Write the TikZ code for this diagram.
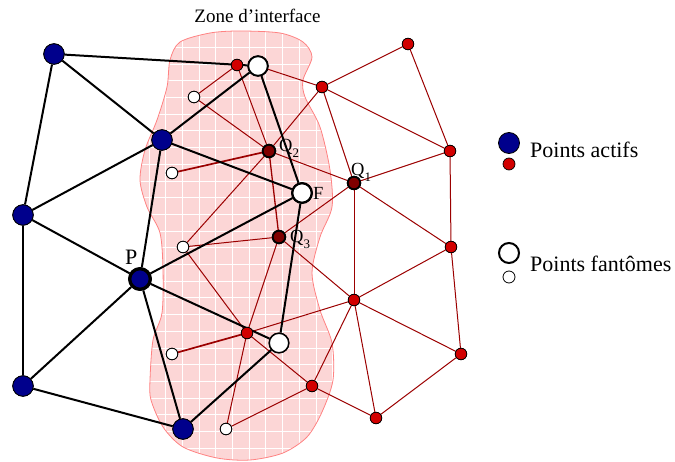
\documentclass[tikz,border=0pt]{standalone}
\usepackage{fontspec}
\setmainfont{Liberation Serif}
\definecolor{navyb}{RGB}{0,0,140}
\definecolor{redf}{RGB}{210,0,0}
\definecolor{darkq}{RGB}{128,0,0}
\definecolor{redl}{RGB}{155,0,0}
\definecolor{zonef}{RGB}{252,214,214}
\definecolor{zoned}{RGB}{255,130,130}
\tikzset{
  activebig/.style={circle, draw=black, line width=0.8pt, fill=navyb, minimum size=20.5pt, inner sep=0pt},
  pnode/.style={activebig, line width=3.2pt, minimum size=20.5pt},
  activesmall/.style={circle, draw=black, line width=0.7pt, fill=redf, minimum size=11.5pt, inner sep=0pt},
  qnode/.style={circle, draw=black, line width=1.8pt, fill=darkq, minimum size=12.5pt, inner sep=0pt},
  ghostbig/.style={circle, draw=black, line width=1.8pt, fill=white, minimum size=19.5pt, inner sep=0pt},
  ghostsmall/.style={circle, draw=black, line width=0.8pt, fill=white, minimum size=11.5pt, inner sep=0pt},
  blackedge/.style={line width=2pt, black},
  rededge/.style={line width=1pt, redl},
  redthick/.style={line width=1.7pt, redl},
  lbl/.style={anchor=base west, inner sep=0pt, font=\fontsize{18.5}{20}\selectfont},
  legend/.style={anchor=base west, inner sep=0pt, font=\fontsize{22}{26}\selectfont}
}
\newcommand{\subtxt}[1]{\raisebox{-5.5pt}{\fontsize{13}{13}\selectfont #1}}
\newcommand{\zonecoords}{(210,33) (240,31) (280,33) (303,42) (312,57) (303,80) (305,97) (320,127) (330,170) (332,207) (320,237) (312,273) (320,310) (332,343) (333,380) (322,412) (307,437) (283,453) (250,460) (217,458) (183,447) (163,427) (151,400) (150,380) (153,340) (162,313) (163,270) (160,233) (147,207) (140,180) (145,150) (157,120) (167,87) (170,60) (180,42)}
\begin{document}
\begin{tikzpicture}[x=1pt,y=-1pt]
\useasboundingbox (0,0) rectangle (675,462);
% interface zone
\fill[zonef] plot[smooth cycle] coordinates {\zonecoords};
\begin{scope}
\clip plot[smooth cycle] coordinates {\zonecoords};
\foreach \i in {0,...,13} \draw[white, line width=0.7pt] ({132.2+\i*16.7},20) -- ++(0,450);
\foreach \j in {0,...,27} \draw[white, line width=0.7pt] (130,{13.9+\j*16.7}) -- ++(220,0);
\end{scope}
\draw[zoned, line width=0.8pt] plot[smooth cycle] coordinates {\zonecoords};
\node[font=\fontsize{19}{22}\selectfont, anchor=base, inner sep=0pt] (zone) at (257.5,23) {Zone d’interface};

% nodes
\node[activebig] (B1) at (54,54) {};
\node[activebig] (B2) at (162,140) {};
\node[activebig] (B3) at (23,215) {};
\node[pnode] (P) at (140,279) {};
\node[activebig] (B4) at (23,386) {};
\node[activebig] (B5) at (183,429) {};

\node[ghostbig] (W1) at (258,66) {};
\node[ghostbig, line width=2.2pt] (F) at (302,193) {};
\node[ghostbig, line width=1.4pt] (W3) at (279,343) {};

\node[ghostsmall] (s1) at (194,97) {};
\node[ghostsmall] (s2) at (172,173) {};
\node[ghostsmall] (s3) at (183,247) {};
\node[ghostsmall] (s4) at (172,354) {};
\node[ghostsmall] (s5) at (226,429) {};

\node[activesmall] (r1) at (237,65) {};
\node[qnode] (Q2) at (269,151) {};
\node[qnode] (Q1) at (354,183) {};
\node[qnode] (Q3) at (279,237) {};
\node[activesmall] (r2) at (322,87) {};
\node[activesmall] (r3) at (408,44) {};
\node[activesmall] (r4) at (450,151) {};
\node[activesmall] (r5) at (451,247) {};
\node[activesmall] (r6) at (354,300) {};
\node[activesmall] (r7) at (247,333) {};
\node[activesmall] (r8) at (312,386) {};
\node[activesmall] (r9) at (376,418) {};
\node[activesmall] (r10) at (461,354) {};

% red edges
\draw[rededge] (s1) -- (r1);
\draw[rededge] (s1) -- (Q2);
\draw[rededge] (r1) -- (Q2);
\draw[rededge] (W1) -- (r2);
\draw[rededge] (r2) -- (Q2);
\draw[rededge] (r2) -- (r3);
\draw[rededge] (r2) -- (r4);
\draw[rededge] (r2) -- (Q1);
\draw[rededge] (r3) -- (r4);
\draw[redthick] (s2) -- (Q2);
\draw[rededge] (Q2) -- (s3);
\draw[rededge, line width=1.3pt] (Q2) -- (Q3);
\draw[rededge] (Q2) -- (Q1);
\draw[rededge] (Q3) -- (s3);
\draw[rededge] (Q3) -- (Q1);
\draw[rededge] (Q3) -- (r7);
\draw[rededge] (Q3) -- (r6);
\draw[rededge] (s3) -- (r7);
\draw[redthick] (s4) -- (r7);
\draw[rededge] (r7) -- (s5);
\draw[rededge] (r7) -- (r8);
\draw[rededge] (r7) -- (r6);
\draw[rededge] (s5) -- (r8);
\draw[rededge] (r8) -- (r6);
\draw[rededge] (r8) -- (r9);
\draw[rededge] (Q1) -- (r4);
\draw[rededge] (Q1) -- (r5);
\draw[rededge] (Q1) -- (r6);
\draw[rededge] (r4) -- (r5);
\draw[rededge] (r5) -- (r6);
\draw[rededge] (r5) -- (r10);
\draw[rededge] (r6) -- (r10);
\draw[rededge] (r6) -- (r9);
\draw[rededge] (r10) -- (r9);

% black edges
\draw[blackedge] (B1) -- (W1);
\draw[blackedge] (B1) -- (B2);
\draw[blackedge] (B1) -- (B3);
\draw[blackedge] (B2) -- (W1);
\draw[blackedge] (B2) -- (B3);
\draw[blackedge] (B2) -- (P);
\draw[blackedge] (B2) -- (F);
\draw[blackedge] (B3) -- (P);
\draw[blackedge] (B3) -- (B4);
\draw[blackedge] (P) -- (B4);
\draw[blackedge] (P) -- (F);
\draw[blackedge] (P) -- (W3);
\draw[blackedge] (P) -- (B5);
\draw[blackedge] (B4) -- (B5);
\draw[blackedge] (B5) -- (W3);
\draw[blackedge] (W1) -- (F);
\draw[blackedge] (F) -- (W3);

% redraw nodes on top of the connectors
\foreach \n/\s in {B1/activebig,B2/activebig,B3/activebig,B4/activebig,B5/activebig,
  s1/ghostsmall,s2/ghostsmall,s3/ghostsmall,s4/ghostsmall,s5/ghostsmall,
  r1/activesmall,r2/activesmall,r3/activesmall,r4/activesmall,r5/activesmall,r6/activesmall,r7/activesmall,r8/activesmall,r9/activesmall,r10/activesmall,
  Q1/qnode,Q2/qnode,Q3/qnode,W1/ghostbig}
  \node[\s] at (\n) {};
\node[pnode] at (P) {};
\node[ghostbig, line width=2.2pt] at (F) {};
\node[ghostbig, line width=1.4pt] at (W3) {};

% labels
\node[lbl] (lQ2) at (279,152) {Q\subtxt{2}};
\node[lbl] (lQ1) at (351,176) {Q\subtxt{1}};
\node[lbl] (lQ3) at (290,243) {Q\subtxt{3}};
\node[lbl] (lF) at (313,200) {F};
\node[legend] (lP) at (125,265) {P};

% legend
\node[activebig, minimum size=21pt] (la) at (509,143) {};
\node[activesmall, minimum size=12pt] (lb) at (509,164) {};
\node[ghostbig, minimum size=20pt, line width=2pt] (lc) at (509,253) {};
\node[ghostsmall, minimum size=12pt] (ld) at (509,277) {};
\node[legend] (ta) at (530,158) {Points actifs};
\node[legend] (tb) at (530,272) {Points fantômes};
\end{tikzpicture}
\end{document}
